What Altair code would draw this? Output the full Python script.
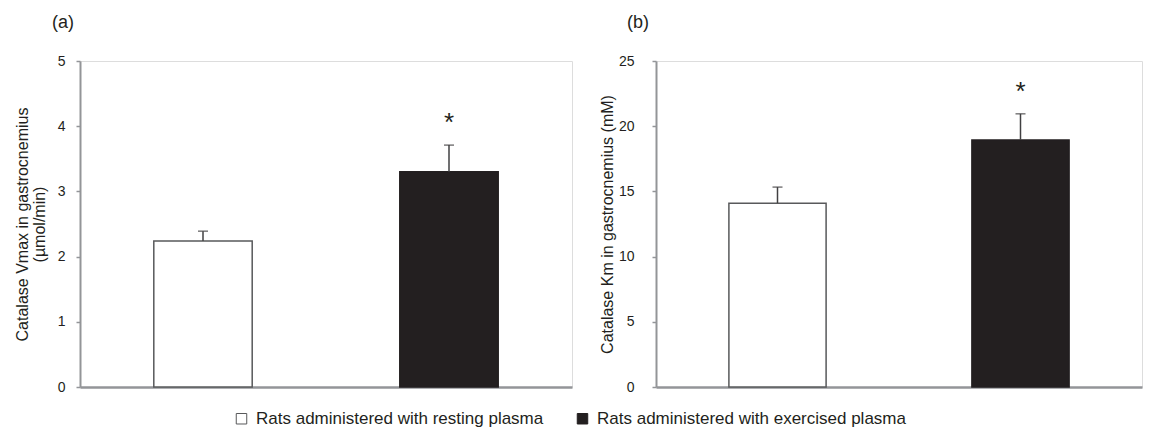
import altair as alt
import pandas as pd

groups = ["Rats administered with resting plasma", "Rats administered with exercised plasma"]
vmax = [2.24, 3.30]
vmax_err = [0.15, 0.41]
km = [14.1, 18.95]
km_err = [1.23, 2.0]
sig = ["", "*"]

FONT = "Liberation Sans"
TXT = "#231f20"
AX = "#939598"

df = pd.DataFrame({
    "group": groups,
    "vmax": vmax,
    "vmax_top": [v + e for v, e in zip(vmax, vmax_err)],
    "km": km,
    "km_top": [v + e for v, e in zip(km, km_err)],
    "sig": sig,
})


def panel(val, top, dom, vals, ytitle, label, lab_pad, title_pad, title_dx, show_legend, w):
    base = alt.Chart(df)
    x = alt.X("group:N", sort=groups,
              scale=alt.Scale(paddingInner=0.6, paddingOuter=0.3),
              axis=alt.Axis(labels=False, ticks=False, title=None,
                            domainColor=AX, domainWidth=2.5))
    y = alt.Y(f"{val}:Q", scale=alt.Scale(domain=dom, nice=False),
              axis=alt.Axis(values=vals, format="d", title=ytitle, labelPadding=lab_pad,
                            titlePadding=title_pad, domainColor=AX, domainWidth=2,
                            tickColor=AX, tickWidth=1.5, tickSize=4, grid=False,
                            labelFontSize=14, labelColor=TXT, labelFont=FONT,
                            titleFontSize=16, titleFontWeight="normal", titleColor=TXT,
                            titleFont=FONT, titleLineHeight=17))
    if show_legend:
        leg = alt.Legend(title=None, orient="none", legendX=153, legendY=349,
                         direction="horizontal", symbolType="square", symbolSize=110,
                         symbolStrokeColor="#58595b", symbolStrokeWidth=1,
                         labelFontSize=17, labelFont=FONT, labelColor=TXT,
                         columnPadding=30, labelLimit=0, labelOffset=6)
    else:
        leg = None
    fill = alt.Fill("group:N", scale=alt.Scale(domain=groups, range=["white", TXT]),
                    legend=leg)
    stroke = alt.Stroke("group:N", scale=alt.Scale(domain=groups, range=["#58595b", TXT]),
                        legend=None)
    bars = base.mark_bar(strokeWidth=1.5).encode(x=x, y=y, fill=fill, stroke=stroke)
    err = base.mark_rule(color="#414042", strokeWidth=1.5).encode(
        x=alt.X("group:N", sort=groups), y=f"{val}:Q", y2=f"{top}:Q")
    cap = base.mark_tick(color="#414042", thickness=1.5, size=10).encode(
        x=alt.X("group:N", sort=groups), y=f"{top}:Q")
    star = base.mark_text(fontSize=26, font=FONT, color=TXT, dy=-22, baseline="middle").encode(
        x=alt.X("group:N", sort=groups), y=f"{top}:Q", text="sig:N")
    return alt.layer(bars, err, cap, star).properties(
        width=w, height=326,
        title=alt.TitleParams(label, anchor="start", frame="group", dx=title_dx, fontSize=18,
                              fontWeight="normal", font=FONT, color=TXT, offset=22))


pa = panel("vmax", "vmax_top", [0, 5], [0, 1, 2, 3, 4, 5],
           ["Catalase Vmax in gastrocnemius", "(µmol/min)"], "(a)", 11, 10, -28, True, 492)
pb = panel("km", "km_top", [0, 25], [0, 5, 10, 15, 20, 25],
           "Catalase Km in gastrocnemius (mM)", "(b)", 18, 3, -29, False, 486)

chart = alt.hconcat(pa, pb, spacing=25).properties(
    padding={"left": 5, "top": 5, "right": 0, "bottom": 5}
).configure_view(strokeWidth=0).configure(background="white")

chart.save("out.html", embed_options={"renderer": "svg", "actions": False})
